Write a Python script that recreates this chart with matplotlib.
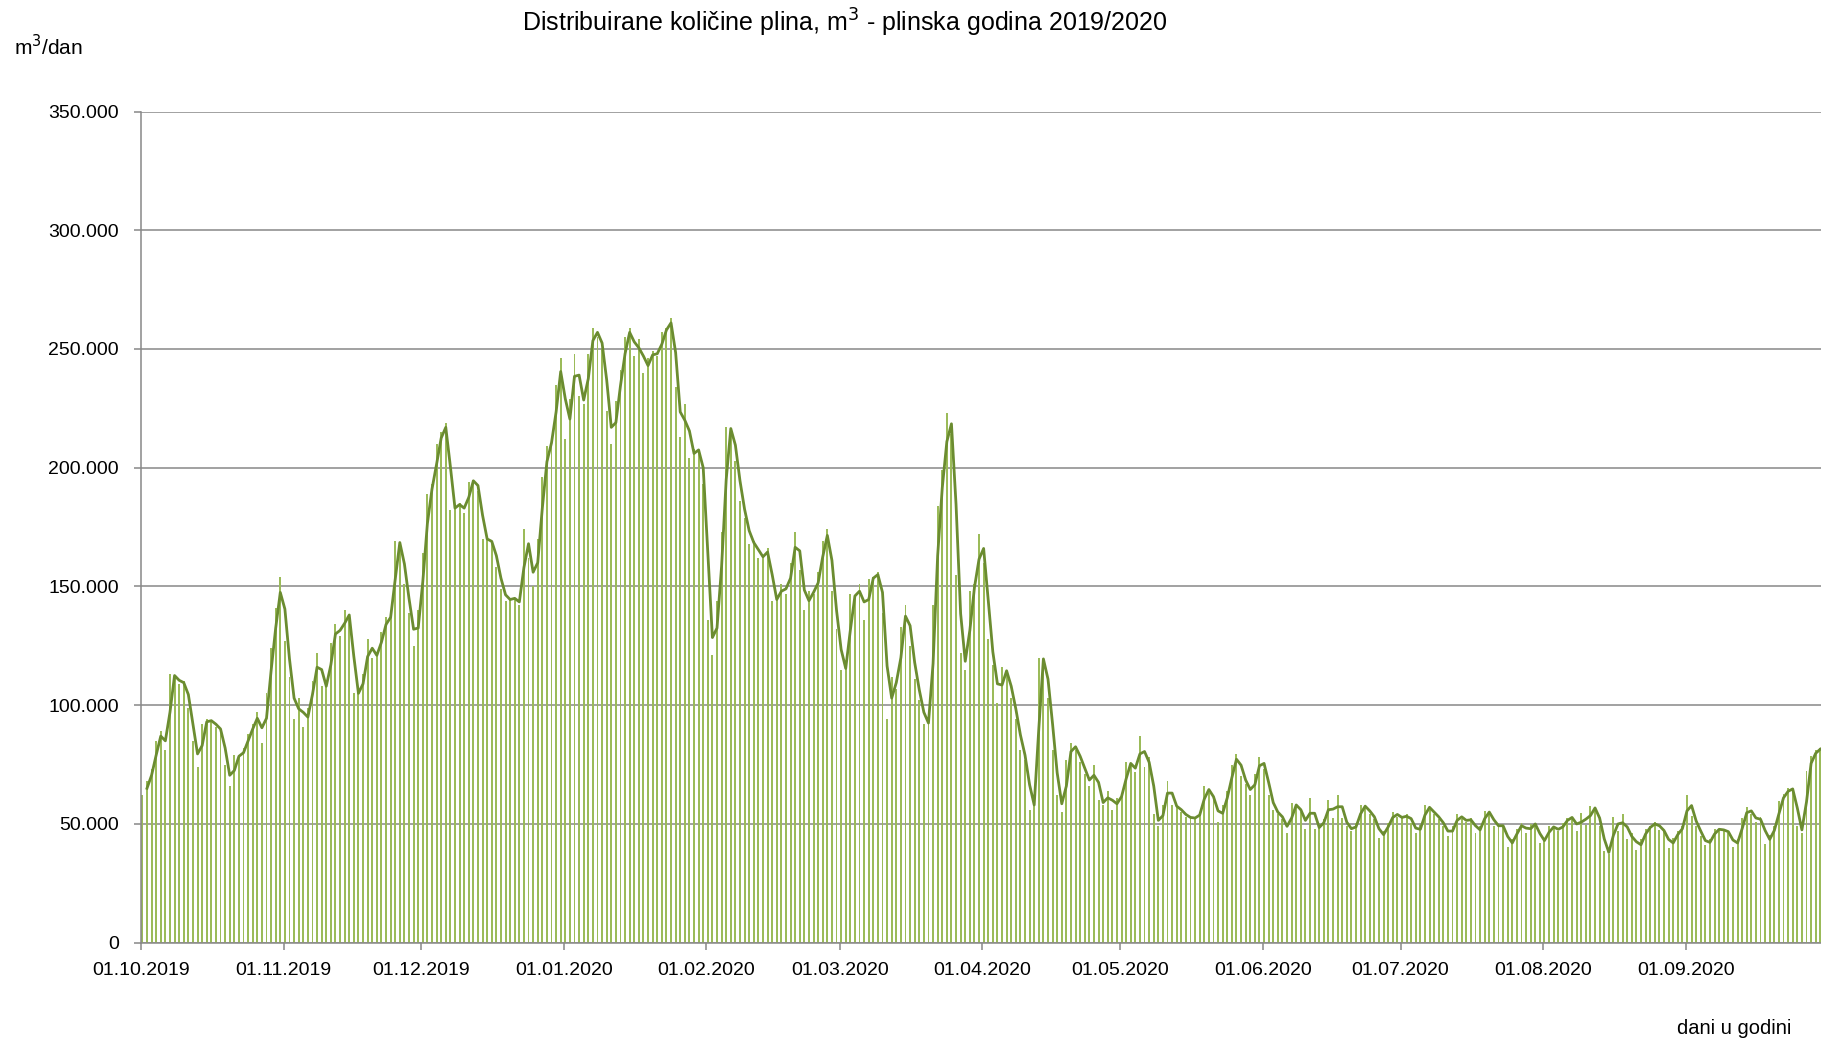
import numpy as np
import pandas as pd
import matplotlib
matplotlib.use("Agg")
import matplotlib.pyplot as plt
from matplotlib.ticker import FuncFormatter

plt.rcParams['font.family'] = ['Liberation Sans', 'DejaVu Sans']

# daily distributed gas quantities, m3/day (gas year 2019/2020)
oct_2019 = [62000, 68000, 73000, 85000, 89000, 81000, 113000, 112000, 109000, 110000,
            99000, 85000, 74000, 92000, 94000, 93000, 91000, 89000, 75000, 66000,
            79000, 78000, 82000, 88000, 92000, 97000, 84000, 105000, 124000, 141000, 154000]
nov_2019 = [127000, 112000, 94000, 103000, 91000, 99000, 110000, 122000, 108000, 108000,
            126000, 134000, 129000, 140000, 136000, 105000, 105000, 113000, 128000, 120000,
            122000, 131000, 137000, 137000, 169000, 168000, 151000, 139000, 125000, 140000]
dec_2019 = [164000, 189000, 193000, 210000, 215000, 219000, 182000, 184000, 185000, 181000,
            194000, 195000, 190000, 170000, 170000, 168000, 158000, 149000, 144000, 145000,
            145000, 142000, 174000, 162000, 150000, 170000, 196000, 209000, 212000, 235000, 246000]
jan_2020 = [212000, 229000, 248000, 230000, 227000, 248000, 259000, 255000, 250000, 224000,
            210000, 228000, 241000, 255000, 259000, 247000, 254000, 240000, 246000, 249000,
            247000, 257000, 259000, 263000, 234000, 213000, 227000, 204000, 208000, 207000, 193000]
feb_2020 = [136000, 121000, 144000, 173000, 217000, 216000, 203000, 186000, 179000, 168000,
            169000, 162000, 163000, 166000, 144000, 145000, 151000, 147000, 160000, 173000,
            157000, 140000, 148000, 147000, 156000, 169000, 174000, 148000, 132000]
mar_2020 = [115000, 116000, 147000, 145000, 151000, 136000, 153000, 154000, 156000, 139000,
            94000, 112000, 107000, 133000, 142000, 125000, 111000, 102000, 92000, 93000,
            142000, 184000, 199000, 223000, 214000, 155000, 122000, 115000, 148000, 151000, 172000]
apr_2020 = [160000, 128000, 117000, 101000, 116000, 113000, 103000, 94000, 81000, 77000,
            56000, 60000, 120000, 119000, 103000, 81000, 62000, 55000, 77000, 84000,
            81000, 76000, 71000, 66000, 75000, 60000, 58000, 64000, 56000, 61000]
may_2020 = [62000, 76000, 75000, 72000, 87000, 74000, 78000, 54000, 49000, 58000,
            68000, 58000, 57000, 55000, 53000, 52500, 52500, 55000, 66000, 63000,
            60000, 51000, 58000, 64000, 75000, 79500, 70000, 67000, 62000, 71000, 78000]
jun_2020 = [73000, 62000, 56000, 54000, 52000, 46000, 59000, 57000, 55000, 48000,
            61000, 48000, 49000, 52000, 60000, 52500, 62000, 52500, 49000, 47000,
            50500, 58000, 57000, 54000, 52000, 44000, 47000, 50500, 55000, 53000]
jul_2020 = [52500, 54000, 50500, 46000, 49500, 58000, 56000, 54000, 52000, 49000,
            45000, 49000, 54000, 52000, 51000, 52500, 46000, 49000, 55500, 54500,
            49000, 49500, 49000, 40500, 43500, 48000, 50500, 46000, 50000, 50000, 42000]
aug_2020 = [44000, 49000, 48500, 47000, 50500, 52500, 53000, 47000, 54500, 49500,
            57500, 56000, 49000, 38500, 37500, 53000, 47000, 54000, 43500, 46000,
            39000, 43500, 48000, 49000, 51000, 47500, 47000, 40000, 44000, 47000, 49000]
sep_2020 = [62000, 53500, 49000, 45000, 41000, 43500, 48000, 47500, 47500, 46000,
            40500, 43500, 52500, 57000, 54000, 51000, 53000, 41500, 45500, 49000,
            59500, 62500, 65000, 64500, 49000, 46000, 72500, 78500, 81000, 82000]

months = [oct_2019, nov_2019, dec_2019, jan_2020, feb_2020, mar_2020,
          apr_2020, may_2020, jun_2020, jul_2020, aug_2020, sep_2020]
tick_labels = ["01.10.2019", "01.11.2019", "01.12.2019", "01.01.2020", "01.02.2020",
               "01.03.2020", "01.04.2020", "01.05.2020", "01.06.2020", "01.07.2020",
               "01.08.2020", "01.09.2020"]
y_ticks = [0, 50000, 100000, 150000, 200000, 250000, 300000, 350000]

title = "Distribuirane količine plina, m$^3$ - plinska godina 2019/2020"
y_unit = "m$^3$/dan"
x_title = "dani u godini"

values = pd.Series(np.concatenate([np.asarray(m, dtype=float) for m in months]))
days = np.arange(len(values))
moving_avg = values.rolling(2).mean()      # Excel "2 per. Mov. Avg." trendline
month_starts = np.cumsum([0] + [len(m) for m in months[:-1]])

W, H = 1821, 1045
fig = plt.figure(figsize=(W / 100, H / 100), dpi=100)
left_px, right_px = 141, 141 + 366 * 4.597
bottom_px, top_px = 942.7, 111.5
ax = fig.add_axes([left_px / W, 1 - bottom_px / H, (right_px - left_px) / W,
                   (bottom_px - top_px) / H])

bar_color = "#9BBB59"
line_color = "#6B8C30"
grid_color = "#888888"

offset = 0.3
ax.bar(days + offset, values, width=0.42, color=bar_color, linewidth=0, zorder=2)
ax.plot(days + offset, moving_avg, color=line_color, lw=2.0, zorder=3,
        solid_joinstyle="round")

ax.set_xlim(0, 366)
ax.set_ylim(0, 350000)
ax.set_yticks(y_ticks)
ax.yaxis.set_major_formatter(FuncFormatter(lambda v, p: f"{int(v):,}".replace(",", ".")))
ax.set_xticks(month_starts)
ax.set_xticklabels(tick_labels)

ax.grid(axis="y", color=grid_color, lw=1.1, zorder=1)
ax.set_axisbelow(True)
for s in ["top", "right"]:
    ax.spines[s].set_visible(False)
for s in ["left", "bottom"]:
    ax.spines[s].set_color(grid_color)
    ax.spines[s].set_linewidth(1.1)
ax.tick_params(axis="both", colors=grid_color, length=5, width=1.1, labelcolor="black",
               labelsize=14)
ax.tick_params(axis="y", pad=11)
ax.tick_params(axis="x", pad=9)

fig.text(845 / W, 1 - 23 / H, title, ha="center", va="center", fontsize=18)
fig.text(14 / W, 1 - 47 / H, y_unit, ha="left", va="center", fontsize=15)
fig.text(1791 / W, 1 - 1028 / H, x_title, ha="right", va="center", fontsize=14.5)

fig.savefig("out.png", dpi=100)
